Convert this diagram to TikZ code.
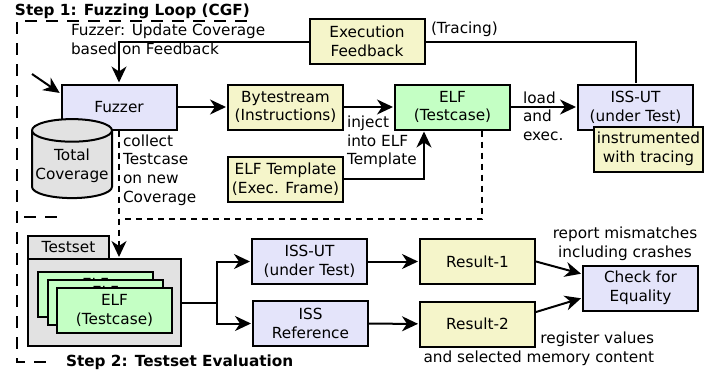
\documentclass[tikz,border=0pt]{standalone}
\usepackage{fontspec}
\setmainfont{DejaVu Sans}
\usetikzlibrary{positioning}
\usetikzlibrary{arrows.meta}
\usetikzlibrary{shapes.geometric}

\definecolor{issblue}{RGB}{228,228,250}
\definecolor{datayellow}{RGB}{245,245,202}
\definecolor{elfgreen}{RGB}{196,255,196}
\definecolor{setgray}{RGB}{226,226,226}

\begin{document}
\begin{tikzpicture}[x=1pt,y=-1pt,>={Stealth[length=16pt,width=15pt,inset=5pt]},
                shorten >=1pt,line width=2pt,
                font=\fontsize{15.3}{18.7}\selectfont,
                box/.style={draw,rectangle,minimum width=115pt,minimum height=45pt,
                  inner sep=2pt,align=center},
                iss node/.style={box,fill=issblue},
                data node/.style={box,fill=datayellow},
                elf node/.style={box,fill=elfgreen},
                set node/.style={draw,rectangle,fill=setgray,inner sep=2pt},
                note/.style={inner sep=0pt,align=left,anchor=west},
                frame/.style={line width=2.2pt,dash pattern=on 12pt off 9pt},
                flow/.style={line width=2pt,dash pattern=on 6pt off 5pt}]

  \useasboundingbox (0,0) rectangle (718,375);

  % step 1: fuzzing loop
  \draw[frame] (247,21) -- (17,21) -- (17,362) -- (55,362);
  \draw[frame] (24,217) -- (64,217);
  \node[note,font=\fontsize{15.3}{18.7}\selectfont\bfseries] (title1) at (14,11)
    {Step 1: Fuzzing Loop (CGF)};

  \node[data node] (feedback) at (367,41.5) {Execution\\Feedback};
  \node[iss node] (fuzzer) at (119,107) {Fuzzer};
  \node[data node] (bytes) at (285.5,107) {Bytestream\\(Instructions)};
  \node[elf node] (elf) at (452.5,107) {ELF\\(Testcase)};
  \node[iss node] (issut) at (635.5,107) {ISS-UT\\(under Test)};
  \node[data node,minimum width=109pt] (instr) at (648.5,149) {instrumented\\with tracing};
  \node[data node] (tmpl) at (285.5,179) {ELF Template\\(Exec. Frame)};
  \node[cylinder,shape border rotate=90,draw,fill=setgray,aspect=0.3,
        minimum width=80pt,minimum height=79pt,inner sep=1pt,align=center]
        (total) at (72,166) {Total\\Coverage};

  \node[note] (update) at (70,39) {Fuzzer: Update Coverage\\based on Feedback};
  \node[note] (tracing) at (430,29) {(Tracing)};
  \node[note] (collect) at (122,170) {collect\\Testcase\\on new\\Coverage};
  \node[note] (inject) at (346,142) {inject\\into ELF\\Template};
  \node[note] (load) at (522,116) {load\\and\\exec.};

  \coordinate (start) at (32,74);
  \draw[->] (start) -- ([yshift=-10pt]fuzzer.north west);
  \draw[->] (feedback.west) -| (fuzzer.north);
  \draw (feedback.east) -| (issut.north);
  \path[->]
    (fuzzer) edge (bytes)
    (bytes) edge (elf)
    (elf) edge (issut);
  \draw[->] (tmpl.east) -| ([xshift=-28.5pt]elf.south);

  % step 2: testset evaluation
  \node[note,font=\fontsize{15.3}{18.7}\selectfont\bfseries] (title2) at (65,362)
    {Step 2: Testset Evaluation};
  \node[set node,minimum width=81pt,minimum height=23pt] (tab) at (68.5,247.5) {Testset};
  \node[set node,minimum width=153pt,minimum height=87pt] (testset) at (104.5,302.5) {};
  \node[elf node] (elf3) at (95.5,294) {ELF\\(Testcase)};
  \node[elf node] (elf2) at (105.5,302) {ELF\\(Testcase)};
  \node[elf node] (elf1) at (114.5,310.5) {ELF\\(Testcase)};

  \node[iss node] (issut2) at (309.5,261.5) {ISS-UT\\(under Test)};
  \node[iss node] (issref) at (310.5,323.5) {ISS\\Reference};
  \node[data node] (res1) at (477.5,261.5) {Result-1};
  \node[data node] (res2) at (477.5,324) {Result-2};
  \node[iss node] (check) at (640.5,288) {Check for\\Equality};

  \node[align=center,inner sep=0pt] (report) at (625,244) {report mismatches\\including crashes};
  \node[align=right,inner sep=0pt,anchor=east] (regs) at (655,349)
    {register values\\and selected memory content};

  \coordinate (join) at (120,219);
  \draw[flow] ([xshift=29.5pt]elf.south) |- (join);
  \draw[flow,->] (fuzzer.south) -- (fuzzer.south |- testset.north);

  \coordinate (split) at (217,302.5);
  \draw (testset.east) -- (split);
  \draw[->] (split) |- (issut2.west);
  \draw[->] (split) |- (issref.west);
  \path[->]
    (issut2) edge (res1)
    (issref) edge (res2);
  \draw[->] (res1.east) -- ([yshift=14pt]check.west);
  \draw[->] ([yshift=12pt]res2.east) -- ([yshift=-10pt]check.west);

\end{tikzpicture}
\end{document}
